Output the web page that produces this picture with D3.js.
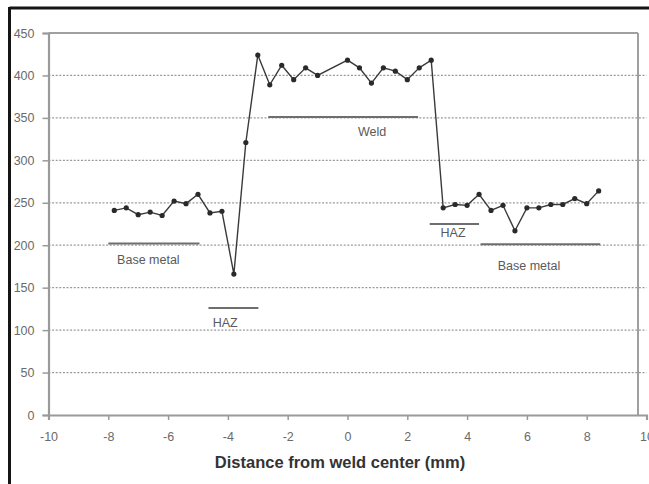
<!DOCTYPE html>
<html>
<head>
<meta charset="utf-8">
<script src="https://cdn.jsdelivr.net/npm/d3@7"></script>
<style>
  html, body { margin: 0; padding: 0; background: #fff; }
  svg { display: block; }
  text { font-family: "Liberation Sans", Arial, sans-serif; }
</style>
</head>
<body>
<svg id="chart" width="649" height="484"></svg>
<script>
// Hardness profile across the weld
const distance = [-7.8, -7.4, -7.0, -6.6, -6.2, -5.8, -5.4, -5.0, -4.6, -4.2,
                  -3.8, -3.4, -3.0, -2.6, -2.2, -1.8, -1.4, -1.0, 0.0, 0.4,
                  0.8, 1.2, 1.6, 2.0, 2.4, 2.8, 3.2, 3.6, 4.0, 4.4,
                  4.8, 5.2, 5.6, 6.0, 6.4, 6.8, 7.2, 7.6, 8.0, 8.4];
const hardness = [241, 244, 236, 239, 235, 252, 249, 260, 238, 240,
                  166, 321, 424, 389, 412, 395, 409, 400, 418, 409,
                  391, 409, 405, 395, 409, 418, 244, 248, 247, 260,
                  241, 247, 217, 244, 244, 248, 248, 255, 249, 264];

// Zone markers: extent in mm, level in hardness units, label anchor
const zoneNames  = ["Base metal", "HAZ", "Weld", "HAZ", "Base metal"];
const zoneStart  = [-8.0, -4.65, -2.65, 2.75, 4.45];
const zoneEnd    = [-4.95, -2.98, 2.36, 4.4, 8.45];
const zoneLevel  = [202, 126, 351, 225, 201];
const zoneLabelX = [-6.66, -4.09, 0.82, 3.53, 6.07];
const zoneLabelY = [178, 104, 329, 210, 171];

const xTicks = [-10, -8, -6, -4, -2, 0, 2, 4, 6, 8, 10];
const yTicks = [0, 50, 100, 150, 200, 250, 300, 350, 400, 450];
const xTitle = "Distance from weld center (mm)";

const svg = d3.select("#chart");
const x = d3.scaleLinear().domain([-10, 10]).range([48.5, 646.5]);
const y = d3.scaleLinear().domain([0, 450]).range([415, 33]);
const plotRight = 638;

// outer frame (left and top rules)
svg.append("line").attr("x1", 9.5).attr("x2", 649).attr("y1", 8).attr("y2", 8)
  .attr("stroke", "#151515").attr("stroke-width", 3);
svg.append("line").attr("x1", 9.5).attr("x2", 9.5).attr("y1", 7).attr("y2", 484)
  .attr("stroke", "#151515").attr("stroke-width", 3);

// dotted gridlines
svg.append("g").selectAll("line")
  .data(yTicks.filter(d => d > 0 && d < 450))
  .join("line")
  .attr("x1", x(-10)).attr("x2", x(10))
  .attr("y1", d => y(d)).attr("y2", d => y(d))
  .attr("stroke", "#9a9a9a").attr("stroke-width", 1.2)
  .attr("stroke-dasharray", "2,1.6");

// plot area border (top and right)
svg.append("line").attr("x1", x(-10)).attr("x2", plotRight)
  .attr("y1", y(450)).attr("y2", y(450))
  .attr("stroke", "#a0a0a0").attr("stroke-width", 2);
svg.append("line").attr("x1", plotRight).attr("x2", plotRight)
  .attr("y1", y(450)).attr("y2", y(0))
  .attr("stroke", "#a0a0a0").attr("stroke-width", 2);

// axes (plain hyphen for negative numbers)
const fmt = d => String(d);
const yAxis = d3.axisLeft(y).tickValues(yTicks).tickSize(6).tickPadding(8).tickFormat(fmt);
const gy = svg.append("g").attr("transform", `translate(${x(-10)},0)`).call(yAxis);
const xAxis = d3.axisBottom(x).tickValues(xTicks).tickSize(5).tickPadding(12).tickFormat(fmt);
const gx = svg.append("g").attr("transform", `translate(0,${y(0)})`).call(xAxis);

[gx, gy].forEach(g => {
  g.select(".domain").attr("stroke", "#9a9a9a").attr("stroke-width", 2.2);
  g.selectAll(".tick line").attr("stroke", "#9a9a9a").attr("stroke-width", 1.5);
  g.selectAll(".tick text").attr("fill", "#6a6a6a")
    .style("font-size", "12.5px").style("font-family", "'Liberation Sans', Arial, sans-serif");
});

// axis title
svg.append("text")
  .attr("x", 340).attr("y", 468)
  .attr("text-anchor", "middle")
  .attr("fill", "#333")
  .style("font-size", "16.5px").style("font-weight", "bold")
  .text(xTitle);

// zone markers and labels
const zones = zoneNames.map((name, i) => ({
  name, x0: zoneStart[i], x1: zoneEnd[i], level: zoneLevel[i],
  lx: zoneLabelX[i], ly: zoneLabelY[i]
}));
const zg = svg.append("g");
zg.selectAll("line").data(zones).join("line")
  .attr("x1", d => x(d.x0)).attr("x2", d => x(d.x1))
  .attr("y1", d => y(d.level)).attr("y2", d => y(d.level))
  .attr("stroke", "#6e6e6e").attr("stroke-width", 2);
zg.selectAll("text").data(zones).join("text")
  .attr("x", d => x(d.lx)).attr("y", d => y(d.ly))
  .attr("text-anchor", "middle")
  .attr("fill", "#5a5a5a")
  .style("font-size", "12.5px")
  .text(d => d.name);

// hardness line with markers
const pts = distance.map((d, i) => ({ d, h: hardness[i] }));
svg.append("path").datum(pts)
  .attr("fill", "none").attr("stroke", "#3a3a3a").attr("stroke-width", 1.4)
  .attr("d", d3.line().x(p => x(p.d)).y(p => y(p.h)));
svg.append("g").selectAll("circle").data(pts).join("circle")
  .attr("cx", p => x(p.d)).attr("cy", p => y(p.h))
  .attr("r", 2.6)
  .attr("fill", "#2a2a2a");
</script>
</body>
</html>
